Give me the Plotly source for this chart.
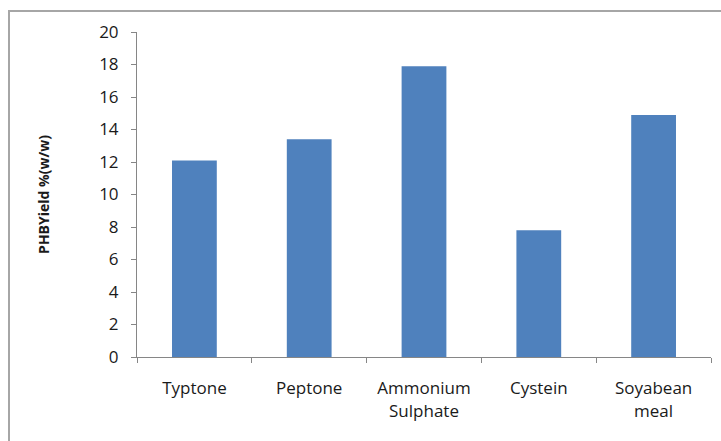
import plotly.graph_objects as go

categories = ["Typtone", "Peptone", "Ammonium<br>Sulphate", "Cystein", "Soyabean<br>meal"]
phb_yield = [12.1, 13.4, 17.9, 7.8, 14.9]
y_ticks = [0, 2, 4, 6, 8, 10, 12, 14, 16, 18, 20]

W, H = 721, 441
L, R, T, B = 137, 10, 32, 84
pw = W - L - R
ph = H - T - B

fig = go.Figure(
    go.Bar(
        x=categories,
        y=phb_yield,
        marker=dict(color="#4F81BD", line=dict(width=0)),
    )
)

axis_col = "#868686"
font_family = "Open Sans, Liberation Sans, sans-serif"

fig.update_layout(
    width=W,
    height=H,
    margin=dict(l=L, r=R, t=T, b=B),
    paper_bgcolor="white",
    plot_bgcolor="white",
    bargap=0.61,
    showlegend=False,
    font=dict(family=font_family, size=17, color="#1a1a1a"),
    xaxis=dict(
        type="category",
        showline=True,
        linecolor=axis_col,
        linewidth=1,
        ticks="outside",
        tickson="boundaries",
        ticklen=5,
        tickcolor=axis_col,
        showgrid=False,
        tickfont=dict(size=17),
        ticklabelstandoff=16,
    ),
    yaxis=dict(
        range=[0, 20],
        tickvals=y_ticks,
        showline=True,
        linecolor=axis_col,
        linewidth=1,
        ticks="outside",
        ticklen=5,
        tickcolor=axis_col,
        showgrid=False,
        zeroline=False,
        tickfont=dict(size=17),
        ticklabelstandoff=9,
        title=dict(
            text="<b>PHBYield %(w/w)</b>",
            font=dict(size=14),
            standoff=46,
        ),
    ),
    shapes=[
        dict(
            type="rect",
            xref="paper",
            yref="paper",
            x0=(9 - L) / pw,
            x1=(W + 5 - L) / pw,
            y0=(T + ph - (H + 5)) / ph,
            y1=(T + ph - 11) / ph,
            line=dict(color="#a6a6a6", width=2),
            fillcolor="rgba(0,0,0,0)",
            layer="below",
        )
    ],
)

fig.write_html("out.html")
